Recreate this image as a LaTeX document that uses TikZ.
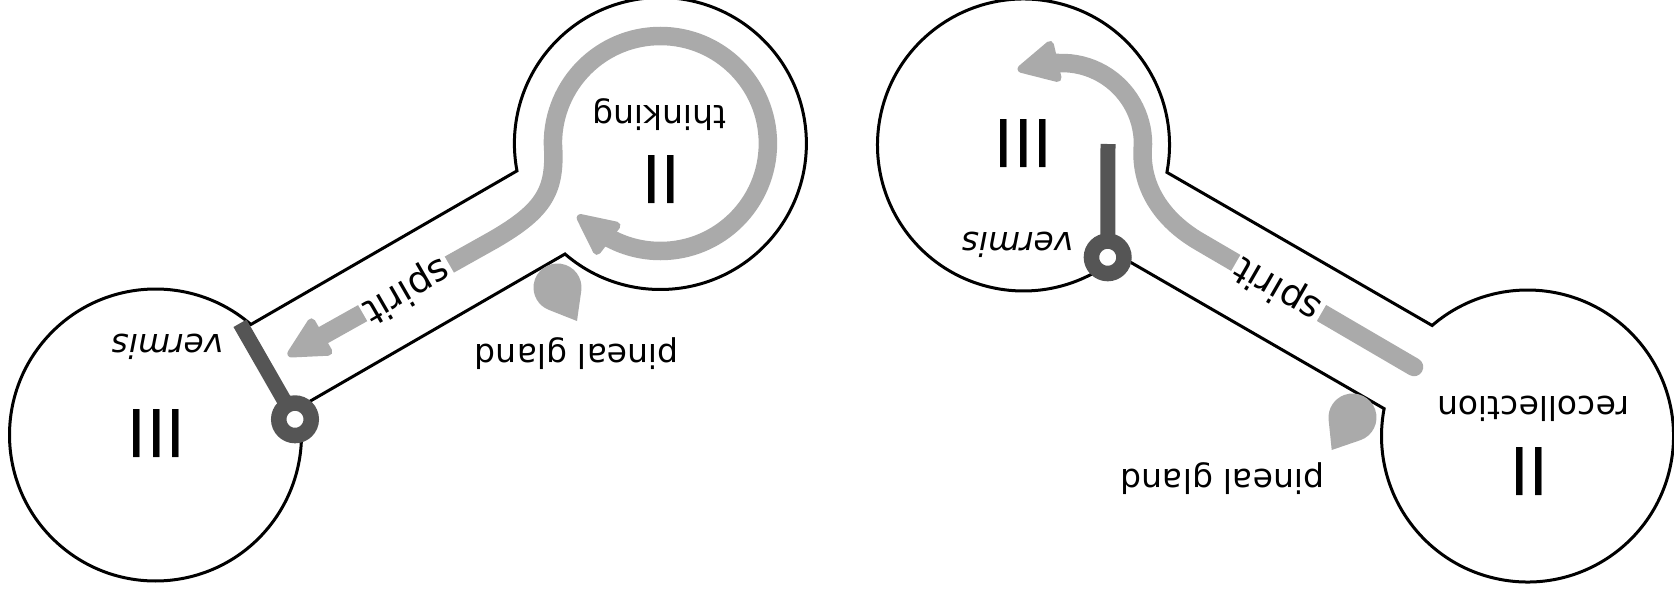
\documentclass[tikz,border=0pt]{standalone}
\usepackage{fontspec}
\setmainfont{DejaVu Sans}
\usetikzlibrary{calc}
\definecolor{spiritgray}{RGB}{170,170,170}
\definecolor{gatedark}{RGB}{85,85,85}
\tikzset{
  outline/.style={draw=black,line width=3pt,line join=miter},
  flow/.style={draw=spiritgray,line width=18.5pt},
  flowtip/.style={fill=spiritgray,draw=spiritgray,line width=8pt,line join=round},
  gatebar/.style={draw=gatedark,line width=15pt},
  gatering/.style={draw=gatedark,fill=white,line width=15.5pt},
  bignum/.style={font=\fontsize{66}{70}\selectfont,rotate=180,inner sep=0pt},
  lab/.style={font=\fontsize{33}{38}\selectfont,rotate=180,inner sep=0pt},
  vlab/.style={font=\fontsize{33}{38}\selectfont\itshape,rotate=180,inner sep=0pt},
  spiritlab/.style={font=\fontsize{37}{42}\selectfont,fill=white,inner sep=3pt},
  gland/.style={fill=spiritgray},
}
\begin{document}
\begin{tikzpicture}[x=1pt,y=1pt]
\useasboundingbox (0,0) rectangle (1674,-589);
% ---------- left figure ----------
\coordinate (A) at (155.5,-435);
\coordinate (B) at ($(A)+(30:583)$);
\draw[outline] ($(A)+(49.2:146)$) arc[start angle=49.2,end angle=370.8,radius=146]
  -- ($(B)+(229.2:146)$) arc[start angle=229.2,end angle=550.8,radius=146] -- cycle;
\coordinate (tipA) at (287,-356);
\coordinate (baseA) at ($(tipA)+(30:34)$);
\coordinate (QA) at ($(A)+(30:390)$);
\coordinate (loopL) at ($(B)+(180:107.5)$);
\coordinate (tipB) at (576.7,-215);
\coordinate (baseB) at ($(tipB)+(-37.8:34)$);
\draw[flow] (baseA) -- (QA) .. controls ($(QA)+(30:60)$) and (556,-190) .. (loopL)
  arc[start angle=180,end angle=-117.4,radius=107.5] -- (baseB);
\fill[flowtip] ($(tipA)+(30:5)$) -- ($(tipA)+(30:38)+(120:17)$) -- ($(tipA)+(30:38)+(-60:17)$) -- cycle;
\fill[flowtip] ($(tipB)+(-37.8:5)$) -- ($(tipB)+(-37.8:38)+(52.2:16)$) -- ($(tipB)+(-37.8:38)+(-127.8:16)$) -- cycle;
\node[spiritlab,rotate=210] (spiritL) at ($(A)+(30:290)$) {spirit};
\coordinate (glandLc) at (557.5,-287.5);
\coordinate (glandLt) at (577,-321);
\fill[gland] (glandLt) -- ($(glandLc)+(-8.05:24)$) arc[start angle=-8.05,end angle=248.45,radius=24] -- cycle;
\node[bignum] (IIIL) at (156.3,-434) {III};
\node[vlab] (vermisL) at (167.5,-346.7) {vermis};
\node[bignum] (IIL) at (661,-179.3) {II};
\node[lab] (thinking) at (659.2,-114.2) {thinking};
\node[lab] (glandL) at (576.7,-353.3) {pineal gland};
\coordinate (hingeL) at (295,-419.3);
\coordinate (barL) at (240,-323.3);
\draw[gatebar] (hingeL) -- (barL);
\draw[gatering] (hingeL) circle[radius=16.25];
% ---------- right figure ----------
\coordinate (C) at (1023.5,-145);
\coordinate (D) at ($(C)+(-30:582)$);
\draw[outline] ($(C)+(-10.8:146)$) arc[start angle=-10.8,end angle=310.8,radius=146]
  -- ($(D)+(169.2:146)$) arc[start angle=169.2,end angle=490.8,radius=146] -- cycle;
\coordinate (capR) at (1414,-367);
\coordinate (QR) at (1200,-242);
\coordinate (arcR) at (1143,-144);
\coordinate (tipR) at (1016.7,-70);
\coordinate (baseR) at ($(tipR)+(13:34)$);
\draw[flow,line cap=round] (capR) -- (QR) .. controls (1161,-219.5) and (1139,-185) .. (arcR)
  arc[start angle=0,end angle=92,radius=81] -- (baseR);
\fill[flowtip] ($(tipR)+(13:5)$) -- ($(tipR)+(13:38)+(103:17)$) -- ($(tipR)+(13:38)+(-77:17)$) -- cycle;
\node[spiritlab,rotate=150] (spiritR) at (1278.3,-288.5) {spirit};
\coordinate (glandRc) at (1352.5,-417.5);
\coordinate (glandRt) at (1331.7,-450);
\fill[gland] (glandRt) -- ($(glandRc)+(288.93:24)$) arc[start angle=288.93,end angle=545.83,radius=24] -- cycle;
\node[bignum] (IIIR) at (1023.3,-143.3) {III};
\node[vlab] (vermisR) at (1017.5,-245) {vermis};
\node[bignum] (IIR) at (1529,-471.3) {II};
\node[lab] (recollection) at (1533.3,-408.3) {recollection};
\node[lab] (glandR) at (1222.5,-479) {pineal gland};
\coordinate (hingeR) at (1107.7,-257.3);
\coordinate (barR) at (1108,-144);
\draw[gatebar] (hingeR) -- (barR);
\draw[gatering] (hingeR) circle[radius=16.25];
\end{tikzpicture}
\end{document}
